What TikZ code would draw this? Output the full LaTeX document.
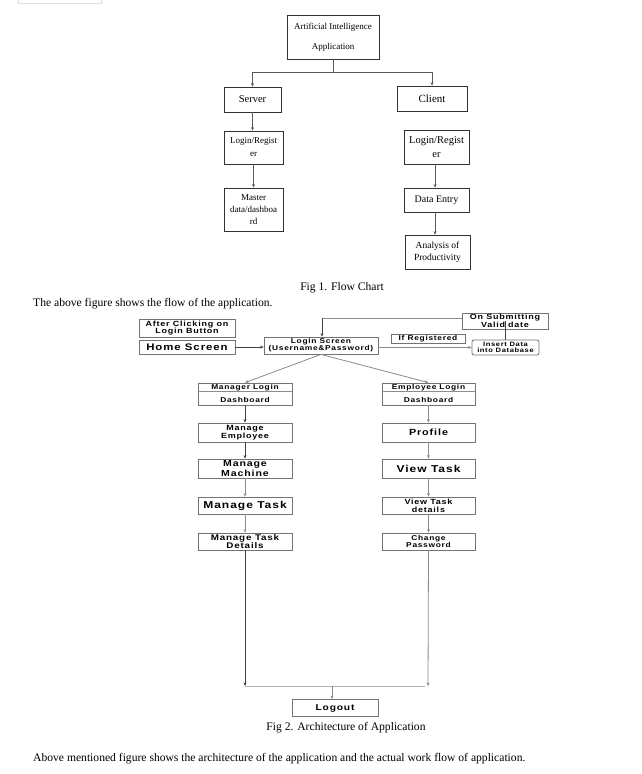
\documentclass[tikz,border=0pt]{standalone}
\usepackage{fontspec}
\setmainfont{Liberation Serif}
\newfontfamily\archfont[FakeStretch=1.2,LetterSpace=10]{Liberation Sans}
\usetikzlibrary{arrows.meta}
\begin{document}
\begin{tikzpicture}[x=1pt,y=-1pt,
  f1box/.style={draw=black!80, line width=0.7pt, inner sep=0pt, align=center},
  f2box/.style={draw=black!55, line width=0.8pt, inner sep=0pt, align=center},
  arr/.style={-{Stealth[length=3.5pt,width=3pt]}},
  f1line/.style={draw=black!65, line width=0.7pt},
  f2line/.style={draw=black!45, line width=0.8pt},
  dkline/.style={draw=black!75, line width=0.8pt},
  plain/.style={inner sep=0pt, align=center},
  ss/.style={font=\archfont\bfseries\fontsize{#1}{\dimexpr #1pt*104/100\relax}\selectfont}
]
\useasboundingbox (0,0) rectangle (642,774);
\fill[white] (0,0) rectangle (642,774);
% faint top-left strip
\draw[black!12, line width=0.6pt] (18,-2) -- (18,3) -- (101,3) -- (101,-2);

% ---------------- Fig 1 ----------------
\node[f1box, minimum width=92pt, minimum height=44pt, font=\fontsize{9}{20}\selectfont] (ai) at (333,37) {Artificial Intelligence\\Application};
\node[f1box, minimum width=57pt, minimum height=25pt, font=\fontsize{10.5}{12}\selectfont] (srv) at (252.5,99.5) {Server};
\node[f1box, minimum width=70pt, minimum height=25pt, font=\fontsize{11}{12}\selectfont] (cli) at (432,98.5) {Client};
\node[f1box, minimum width=59pt, minimum height=33pt, font=\fontsize{9}{13}\selectfont] (lg1) at (253.5,147.5) {Login/Regist\\er};
\node[f1box, minimum width=59pt, minimum height=43pt, font=\fontsize{9}{12}\selectfont] (mst) at (253.5,209.5) {Master\\data/dashboa\\rd};
\node[f1box, minimum width=65pt, minimum height=34pt, font=\fontsize{10.5}{14}\selectfont] (lg2) at (436.5,147) {Login/Regist\\er};
\node[f1box, minimum width=65pt, minimum height=24pt, font=\fontsize{10}{12}\selectfont] (dat) at (436.5,200) {Data Entry};
\node[f1box, minimum width=65pt, minimum height=34pt, font=\fontsize{9.5}{12}\selectfont] (ana) at (437.5,252) {Analysis of\\Productivity};

\coordinate (split) at (333,72);
\draw[f1line] (ai.south) -- (split);
\draw[f1line, arr] (split) -| (srv.north);
\draw[f1line, arr] (split) -| (cli.north);
\draw[f1line, arr] (srv.south) -- (lg1.north -| srv.south);
\draw[f1line, arr] (lg1.south) -- (mst.north);
\draw[f1line, arr] (lg2.south -| 435,0) -- (dat.north -| 435,0);
\draw[f1line, arr] (dat.south -| 435,0) -- (ana.north -| 435,0);

\node[plain, font=\fontsize{11.6}{13}\selectfont] (fig1) at (342,288) {Fig 1. Flow Chart};
\node[plain, anchor=west, font=\fontsize{11.6}{13}\selectfont] (txt1) at (33,304) {The above figure shows the flow of the application.};

% ---------------- Fig 2 ----------------
\node[f2box, ss=7.5, minimum width=96pt, minimum height=18pt] (aft) at (187,328) {After Clicking on\\Login Button};
\node[f2box, ss=9.5, minimum width=96pt, minimum height=14pt] (home) at (187,347) {Home Screen};
\node[f2box, ss=7, minimum width=114pt, minimum height=17pt] (login) at (321,345.5) {Login Screen\\(Username\&Password)};
\node[f2box, ss=7, minimum width=74pt, minimum height=9pt] (ifr) at (428,338.5) {If Registered};
\node[f2box, ss=6.3, minimum width=67pt, minimum height=15pt, rounded corners=2pt] (ins) at (505.5,347.5) {Insert Data\\into Database};
\node[f2box, ss=7.5, minimum width=86pt, minimum height=16pt] (sub) at (505,321) {On Submitting\\Valid\hspace{3pt}date};

\draw[dkline] (ins.north) -- (ins.north |- sub.center);
\coordinate (lgtop) at (322,318);
\draw[f2line] (sub.west |- lgtop) -- (lgtop);
\draw[dkline, arr] (lgtop) -- (lgtop |- login.north);
\draw[dkline, arr] (home.east) -- (home.east -| login.west);
\draw[f2line, arr] (ins.west -| login.east) -- (ins.west);

% managers
\node[f2box, minimum width=94pt, minimum height=22pt] (mgr) at (245,394) {};
\draw[f2line] (198,391) -- (292,391);
\node[plain, ss=7] (mgrt) at (245,387.5) {Manager Login};
\node[plain, ss=7] (mgrd) at (245,399.5) {Dashboard};
\node[f2box, ss=7.5, minimum width=94pt, minimum height=19pt] (memp) at (245,432.5) {Manage\\Employee};
\node[f2box, ss=8.8, minimum width=94pt, minimum height=19pt] (mmac) at (245,468.5) {Manage\\Machine};
\node[f2box, ss=10, minimum width=94pt, minimum height=17pt] (mtsk) at (245,505.5) {Manage Task};
\node[f2box, ss=8.2, minimum width=94pt, minimum height=17pt] (mtd) at (245,541.5) {Manage Task\\Details};

% employees
\node[f2box, minimum width=93pt, minimum height=22pt] (emp) at (428.5,394) {};
\draw[f2line] (382,391) -- (475,391);
\node[plain, ss=7] (empt) at (428.5,387.5) {Employee Login};
\node[plain, ss=7] (empd) at (428.5,399.5) {Dashboard};
\node[f2box, ss=9, minimum width=93pt, minimum height=19pt] (prof) at (428.5,432.5) {Profile};
\node[f2box, ss=10, minimum width=93pt, minimum height=19pt] (vt) at (428.5,468.5) {View Task};
\node[f2box, ss=7.5, minimum width=93pt, minimum height=17pt] (vtd) at (428.5,505.5) {View Task\\details};
\node[f2box, ss=7, minimum width=93pt, minimum height=17pt] (chp) at (428.5,541.5) {Change\\Password};

\draw[f2line, arr] (login.south) -- (mgr.north);
\draw[f2line, arr] (login.south) -- (emp.north);

\draw[dkline, arr] (mgr.south) -- (memp.north);
\draw[dkline, arr] (memp.south) -- (mmac.north);
\draw[f2line, arr] (mmac.south) -- (mtsk.north);
\draw[f2line, arr] (mtsk.south) -- (mtd.north);
\draw[f2line, arr] (emp.south) -- (prof.north);
\draw[f2line, arr] (prof.south) -- (vt.north);
\draw[f2line, arr] (vt.south) -- (vtd.north);
\draw[f2line, arr] (vtd.south) -- (chp.north);

\node[f2box, ss=8.5, minimum width=86pt, minimum height=17pt] (out) at (335,708) {Logout};
\coordinate (jl) at (245,686);
\coordinate (jr) at (428,686);
\coordinate (jm) at (332,686);
\draw[dkline, arr] (mtd.south) -- (jl);
\draw[f2line, arr] (chp.south) -- (jr);
\draw[black!30, line width=1pt] (jl) -- (425,686);
\draw[f2line, arr] (jm) -- (jm |- out.north);

\node[plain, font=\fontsize{11.6}{13}\selectfont] (fig2) at (346,728) {Fig 2. Architecture of Application};
\node[plain, anchor=west, font=\fontsize{11.6}{13}\selectfont] (txt2) at (33,759) {Above mentioned figure shows the architecture of the application and the actual work flow of application.};
\end{tikzpicture}
\end{document}
